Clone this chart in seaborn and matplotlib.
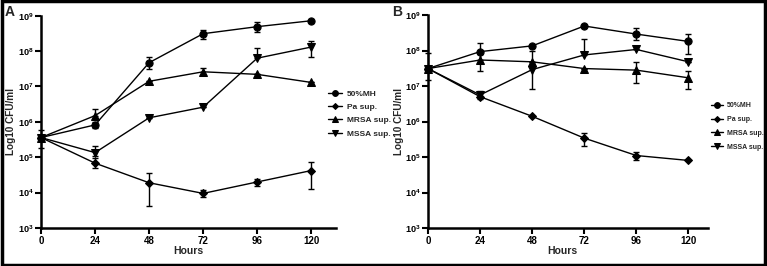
import numpy as np
import pandas as pd
import matplotlib
matplotlib.use("Agg")
import matplotlib.pyplot as plt
import seaborn as sns
from matplotlib.patches import Rectangle
from matplotlib.ticker import FixedLocator, NullLocator

# ---------------- data ----------------
hours = [0, 24, 48, 72, 96, 120]
series = ["50%MH", "Pa sup.", "MRSA sup.", "MSSA sup."]

# Panel A
a_mh = [3.6e5, 8.2e5, 4.7e7, 3.1e8, 4.9e8, 7.2e8]
a_mh_lo = [1.8e5, 6.6e5, 3.1e7, 2.2e8, 3.4e8, 7.2e8]
a_mh_hi = [5.9e5, 1.0e6, 6.6e7, 4.0e8, 6.8e8, 7.2e8]
a_pa = [3.6e5, 6.8e4, 1.9e4, 9.5e3, 2.0e4, 4.2e4]
a_pa_lo = [3.6e5, 4.9e4, 4.2e3, 7.4e3, 1.5e4, 1.26e4]
a_pa_hi = [3.6e5, 9.3e4, 3.5e4, 1.15e4, 2.4e4, 7.1e4]
a_mrsa = [3.6e5, 1.5e6, 1.4e7, 2.6e7, 2.2e7, 1.3e7]
a_mrsa_lo = [3.6e5, 1.5e6, 1.4e7, 2.1e7, 2.2e7, 1.3e7]
a_mrsa_hi = [3.6e5, 2.3e6, 1.4e7, 3.4e7, 2.2e7, 1.3e7]
a_mssa = [3.6e5, 1.35e5, 1.3e6, 2.6e6, 6.3e7, 1.3e8]
a_mssa_lo = [3.6e5, 1.05e5, 1.3e6, 2.6e6, 6.3e7, 6.6e7]
a_mssa_hi = [3.6e5, 2.1e5, 1.3e6, 2.6e6, 1.25e8, 1.95e8]

# Panel B
b_mh = [3.1e7, 9.3e7, 1.35e8, 4.9e8, 2.9e8, 1.8e8]
b_mh_lo = [1.5e7, 5.4e7, 1.35e8, 4.9e8, 2.0e8, 7.9e7]
b_mh_hi = [8.3e7, 1.6e8, 1.35e8, 4.9e8, 4.4e8, 2.9e8]
b_pa = [3.1e7, 5.0e6, 1.4e6, 3.4e5, 1.1e5, 8.0e4]
b_pa_lo = [3.1e7, 5.0e6, 1.4e6, 2.1e5, 8.5e4, 8.0e4]
b_pa_hi = [3.1e7, 5.0e6, 1.4e6, 4.8e5, 1.4e5, 8.0e4]
b_mrsa = [3.1e7, 5.4e7, 4.8e7, 3.1e7, 2.8e7, 1.7e7]
b_mrsa_lo = [3.1e7, 2.7e7, 4.8e7, 3.1e7, 1.2e7, 8.1e6]
b_mrsa_hi = [3.1e7, 7.8e7, 4.8e7, 3.1e7, 4.8e7, 2.7e7]
b_mssa = [3.1e7, 5.6e6, 2.9e7, 7.5e7, 1.07e8, 4.8e7]
b_mssa_lo = [3.1e7, 4.3e6, 8.5e6, 7.5e7, 1.07e8, 4.8e7]
b_mssa_hi = [3.1e7, 7.4e6, 1.0e8, 2.1e8, 1.07e8, 4.8e7]

x_ticks = [0, 24, 48, 72, 96, 120]
y_exps = [3, 4, 5, 6, 7, 8, 9]

# ---------------- style ----------------
sns.set_theme(style="ticks")
plt.rcParams["font.family"] = ["Liberation Sans", "DejaVu Sans"]
plt.rcParams["font.weight"] = "bold"
plt.rcParams["mathtext.fontset"] = "custom"
plt.rcParams["mathtext.rm"] = "Liberation Sans:bold"
plt.rcParams["mathtext.bf"] = "Liberation Sans:bold"
plt.rcParams["mathtext.default"] = "bf"

markers = {"50%MH": "o", "Pa sup.": "D", "MRSA sup.": "^", "MSSA sup.": "v"}
msizes = {"50%MH": 5.2, "Pa sup.": 3.8, "MRSA sup.": 5.4, "MSSA sup.": 5.4}

W, H = 767, 266
fig = plt.figure(figsize=(W / 100, H / 100), dpi=100)

def px_axes(l, r, b, t):
    return fig.add_axes([l / W, 1 - b / H, (r - l) / W, (b - t) / H])

axA = px_axes(41, 336, 228, 15.7)
axB = px_axes(428, 708, 228, 15)

def panel(ax, vals, los, his, xmax, leg_anchor, leg_size, leg_space):
    rows = []
    for s, v in zip(series, vals):
        for h, y in zip(hours, v):
            rows.append({"Hours": h, "cfu": y, "series": s})
    df = pd.DataFrame(rows)
    for s in series:
        sub = df[df["series"] == s]
        sns.lineplot(data=sub, x="Hours", y="cfu", marker=markers[s],
                     markersize=msizes[s], color="black", linewidth=1.0,
                     markeredgecolor="black", ax=ax, label=s, clip_on=False,
                     zorder=3)
    for s, v, lo, hi in zip(series, vals, los, his):
        v = np.array(v); lo = np.array(lo); hi = np.array(hi)
        ax.errorbar(hours, v, yerr=[v - lo, hi - v], fmt="none",
                    ecolor="black", elinewidth=1.0, capsize=2.5,
                    capthick=1.0, clip_on=False, zorder=2)
    ax.set_yscale("log")
    ax.set_ylim(1e3, 1e9)
    ax.set_xlim(0, xmax)
    ax.xaxis.set_major_locator(FixedLocator(x_ticks))
    ax.set_xticklabels([str(t) for t in x_ticks])
    ax.yaxis.set_major_locator(FixedLocator([10.0 ** e for e in y_exps]))
    ax.yaxis.set_minor_locator(NullLocator())
    ax.set_yticklabels([r"$10^{%d}$" % e for e in y_exps])
    sns.despine(ax=ax)
    for sp in ["left", "bottom"]:
        ax.spines[sp].set_linewidth(1.8)
        ax.spines[sp].set_color("black")
    ax.tick_params(axis="both", direction="out", length=4, width=1.5,
                   labelsize=7, colors="black", pad=2)
    ax.tick_params(axis="y", labelsize=6.6, pad=1.5)
    for lab in ax.get_xticklabels() + ax.get_yticklabels():
        lab.set_fontweight("bold")
    ax.set_xlabel("Hours", fontsize=7.5, fontweight="bold")
    ax.set_ylabel("Log10 CFU/ml", fontsize=7.2, fontweight="bold")
    ax.patch.set_visible(False)
    handles, labels = ax.get_legend_handles_labels()
    ax.legend(handles, labels, loc="upper left",
              bbox_to_anchor=(leg_anchor[0] / W, 1 - leg_anchor[1] / H),
              bbox_transform=fig.transFigure, frameon=False,
              prop={"size": leg_size, "weight": "bold"}, handlelength=1.7,
              handletextpad=0.6, labelspacing=leg_space, borderpad=0,
              borderaxespad=0, markerscale=0.8)

panel(axA, [a_mh, a_pa, a_mrsa, a_mssa], [a_mh_lo, a_pa_lo, a_mrsa_lo, a_mssa_lo],
      [a_mh_hi, a_pa_hi, a_mrsa_hi, a_mssa_hi], 131, (328, 90), 6, 0.65)
panel(axB, [b_mh, b_pa, b_mrsa, b_mssa], [b_mh_lo, b_pa_lo, b_mrsa_lo, b_mssa_lo],
      [b_mh_hi, b_pa_hi, b_mrsa_hi, b_mssa_hi], 129, (711, 102), 5.0, 1.0)

axA.yaxis.set_label_coords((16 - 41) / 295, 0.5)
axB.yaxis.set_label_coords((404 - 428) / 280, 0.5)
axA.xaxis.set_label_coords(0.5, (228 - 246) / 212.3)
axB.xaxis.set_label_coords(0.48, (228 - 246) / 213)

fig.text(10 / W, 1 - 12.5 / H, "A", fontsize=10, fontweight="bold",
         ha="center", va="center")
fig.text(397 / W, 1 - 12.5 / H, "B", fontsize=10, fontweight="bold",
         ha="center", va="center")

fig.patches.append(Rectangle((0.002, 0.004), 0.996, 0.992, transform=fig.transFigure,
                             fill=False, edgecolor="black", linewidth=2.5))

fig.savefig("out.png", dpi=100)
